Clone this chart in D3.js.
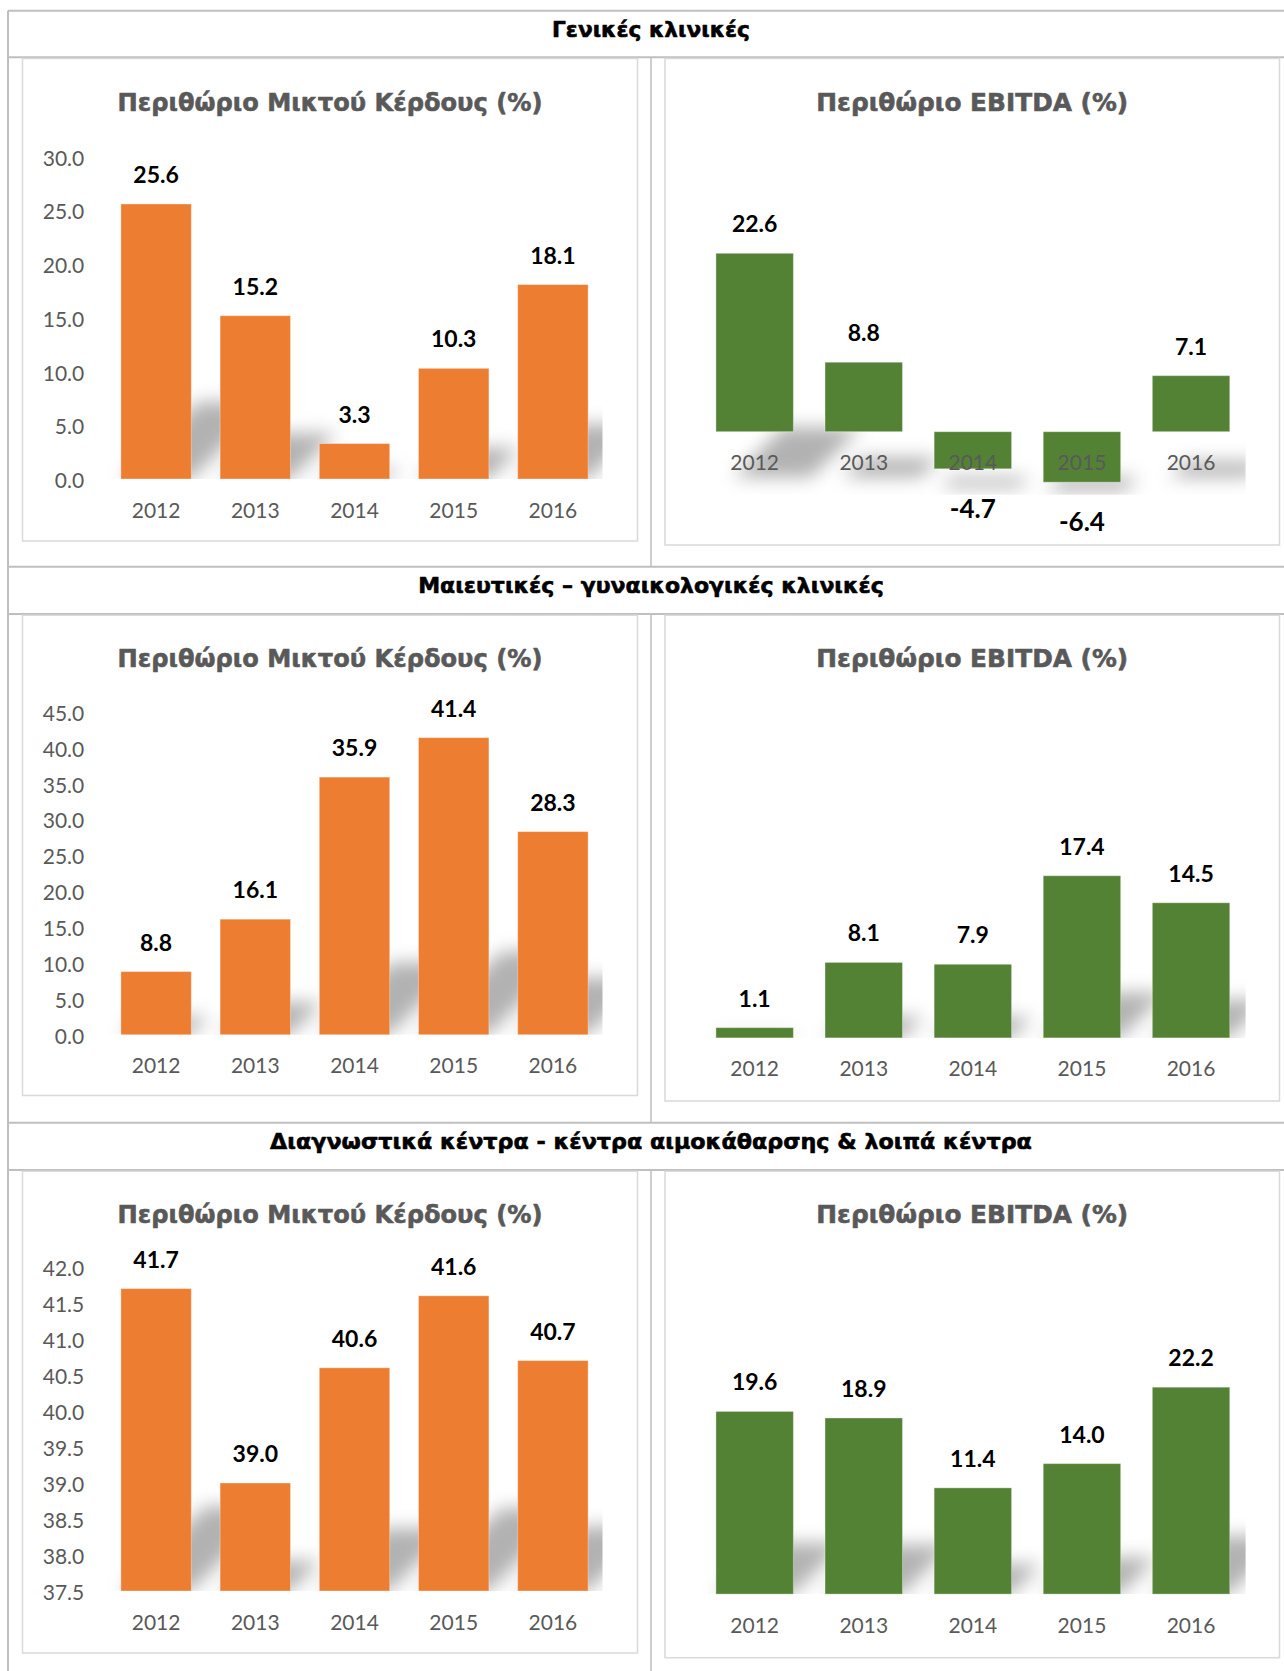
<!DOCTYPE html>
<html>
<head>
<meta charset="utf-8">
<script src="https://cdn.jsdelivr.net/npm/d3@7"></script>
<style>
  html, body { margin: 0; padding: 0; background: #ffffff; }
  svg { display: block; }
</style>
</head>
<body>
<svg id="page" width="1284" height="1671"></svg>
<script>
// ---- data ----
const years = ["2012", "2013", "2014", "2015", "2016"];

const sectionTitles = [
  "Γενικές κλινικές",
  "Μαιευτικές – γυναικολογικές κλινικές",
  "Διαγνωστικά κέντρα - κέντρα αιμοκάθαρσης & λοιπά κέντρα"
];
const grossTitle = "Περιθώριο Μικτού Κέρδους (%)";
const ebitdaTitle = "Περιθώριο EBITDA (%)";

const grossGeneral     = [25.6, 15.2, 3.3, 10.3, 18.1];
const ebitdaGeneral    = [22.6, 8.8, -4.7, -6.4, 7.1];
const grossMaternity   = [8.8, 16.1, 35.9, 41.4, 28.3];
const ebitdaMaternity  = [1.1, 8.1, 7.9, 17.4, 14.5];
const grossDiagnostic  = [41.7, 39.0, 40.6, 41.6, 40.7];
const ebitdaDiagnostic = [19.6, 18.9, 11.4, 14.0, 22.2];

// value-axis tick labels (gross margin charts show their axis)
const grossTicksGeneral    = [0, 5, 10, 15, 20, 25, 30];
const grossTicksMaternity  = [0, 5, 10, 15, 20, 25, 30, 35, 40, 45];
const grossTicksDiagnostic = [37.5, 38, 38.5, 39, 39.5, 40, 40.5, 41, 41.5, 42];

// axis bounds of the EBITDA charts (axis itself is hidden)
const ebitdaBoundsGeneral    = [-8, 24];
const ebitdaBoundsMaternity  = [0, 20];
const ebitdaBoundsDiagnostic = [0, 25];

// ---- styling / layout ----
const ORANGE = "#ED7D31";
const GREEN = "#548235";
const AXIS_TEXT = "#595959";
const TITLE_TEXT = "#595959";
const LINE = "#bfbfbf";
const PANEL = "#d9d9d9";
const W = 1284, H = 1671;
const OUTER_X = 8, MID_X = 651;
const HEAD_FONT = "'DejaVu Sans', Verdana, sans-serif";
const NUM_FONT = "Lato, 'Open Sans', sans-serif";

// one decimal, plain hyphen for negatives
const fmt = d3.formatLocale({ decimal: ".", thousands: ",", grouping: [3], currency: ["", ""], minus: "-" }).format(".1f");

const svg = d3.select("#page");

const defs = svg.append("defs");
defs.append("filter")
  .attr("id", "shadowBlur")
  .attr("filterUnits", "userSpaceOnUse")
  .attr("x", 0).attr("y", 0)
  .attr("width", W).attr("height", H)
  .append("feGaussianBlur").attr("stdDeviation", 9);

// bold heading text, squeezed horizontally to a given width
function fittedText(parent, str, cx, baseline, size, width, fill) {
  const g = parent.append("g").attr("transform", `translate(${cx},${baseline})`);
  const t = g.append("text")
    .attr("text-anchor", "middle")
    .attr("font-family", HEAD_FONT)
    .attr("font-weight", "bold")
    .attr("font-size", size)
    .attr("fill", fill)
    .attr("stroke", fill)
    .attr("stroke-width", 0.6)
    .attr("stroke-linejoin", "round")
    .text(str);
  const natural = t.node().getComputedTextLength();
  if (natural > 0) t.attr("transform", `scale(${width / natural},1)`);
  return g;
}

// rows: section header band, then two chart panels
const rows = [
  {
    title: sectionTitles[0], lineTop: 10.7, lineBottom: 57.3, nextLine: 566.7,
    leftBottom: 541, rightBottom: 545,
    left:  { values: grossGeneral, ticks: grossTicksGeneral, domain: [0, 30], range: [479, 156.7] },
    right: { values: ebitdaGeneral, domain: ebitdaBoundsGeneral, range: [494.85, 242.24] }
  },
  {
    title: sectionTitles[1], lineTop: 566.7, lineBottom: 614, nextLine: 1122.7,
    leftBottom: 1095.5, rightBottom: 1101,
    left:  { values: grossMaternity, ticks: grossTicksMaternity, domain: [0, 45], range: [1034.7, 711.8] },
    right: { values: ebitdaMaternity, domain: ebitdaBoundsMaternity, range: [1037.9, 851.5] }
  },
  {
    title: sectionTitles[2], lineTop: 1122.7, lineBottom: 1170, nextLine: H,
    leftBottom: 1653, rightBottom: 1657.7,
    left:  { values: grossDiagnostic, ticks: grossTicksDiagnostic, domain: [37.5, 42], range: [1591, 1267] },
    right: { values: ebitdaDiagnostic, domain: ebitdaBoundsDiagnostic, range: [1594.1, 1361.1] }
  }
];

const headerWidths = [198, 466, 762];

const leftPanel = { x0: 22.5, x1: 637.5, plotX: [106.5, 602.5], title: grossTitle, titleWidth: 425, color: ORANGE, showAxis: true };
const rightPanel = { x0: 665, x1: 1279.5, plotX: [700.1, 1245.6], title: ebitdaTitle, titleWidth: 312, color: GREEN, showAxis: false };

// outer frame line
svg.append("line")
  .attr("x1", OUTER_X).attr("x2", OUTER_X)
  .attr("y1", rows[0].lineTop).attr("y2", H)
  .attr("stroke", LINE).attr("stroke-width", 2);

rows.forEach((row, ri) => {
  // section header band
  [row.lineTop, row.lineBottom].forEach(yy => {
    svg.append("line")
      .attr("x1", OUTER_X).attr("x2", W)
      .attr("y1", yy).attr("y2", yy)
      .attr("stroke", LINE).attr("stroke-width", 2);
  });
  fittedText(svg, row.title, MID_X, row.lineTop + 26, 21.5, headerWidths[ri], "#000");

  // column divider
  svg.append("line")
    .attr("x1", MID_X).attr("x2", MID_X)
    .attr("y1", row.lineBottom).attr("y2", row.nextLine)
    .attr("stroke", LINE).attr("stroke-width", 1.5);

  drawChart(row, leftPanel, row.left, row.leftBottom, ri, "L");
  drawChart(row, rightPanel, row.right, row.rightBottom, ri, "R");
});

function drawChart(row, panel, spec, panelBottom, ri, side) {
  const g = svg.append("g");
  const top = row.lineBottom + 1.2;

  // panel frame
  g.append("rect")
    .attr("x", panel.x0).attr("y", top)
    .attr("width", panel.x1 - panel.x0).attr("height", panelBottom - top)
    .attr("fill", "#fff").attr("stroke", PANEL).attr("stroke-width", 1.5);

  // chart title
  fittedText(g, panel.title, (panel.x0 + panel.x1) / 2, row.lineBottom + 53.3, 25.5, panel.titleWidth, TITLE_TEXT);

  const x = d3.scaleBand().domain(years).range(panel.plotX)
    .paddingInner(0.29).paddingOuter(0.145);
  const y = d3.scaleLinear().domain(spec.domain).range(spec.range);

  const base = Math.min(Math.max(0, spec.domain[0]), spec.domain[1]);
  const yBase = y(base);
  const yFloor = y(spec.domain[0]);
  const data = years.map((yr, i) => ({ year: yr, value: spec.values[i] }));

  // clip region = plot area
  const clipId = "clip" + ri + side;
  defs.append("clipPath").attr("id", clipId)
    .append("rect")
    .attr("x", panel.plotX[0]).attr("y", y(spec.domain[1]))
    .attr("width", panel.plotX[1] - panel.plotX[0])
    .attr("height", yFloor - y(spec.domain[1]));

  // perspective shadows: bars flattened toward the plot floor and slanted to the right
  const SY = 0.28, SLANT = 1.0;
  const proj = v => yFloor - SY * (yFloor - y(v));
  g.append("g")
    .attr("clip-path", `url(#${clipId})`)
    .selectAll("path")
    .data(data)
    .join("path")
    .attr("d", d => {
      const x0 = x(d.year), x1 = x0 + x.bandwidth();
      const ya = proj(base), yb = proj(d.value);
      const sa = SLANT * (yFloor - ya), sb = SLANT * (yFloor - yb);
      return `M${x0 + sa},${ya}L${x1 + sa},${ya}L${x1 + sb},${yb}L${x0 + sb},${yb}Z`;
    })
    .attr("fill", "#000")
    .attr("fill-opacity", 0.3)
    .attr("filter", "url(#shadowBlur)");

  // bars
  g.append("g")
    .selectAll("rect")
    .data(data)
    .join("rect")
    .attr("x", d => x(d.year))
    .attr("width", x.bandwidth())
    .attr("y", d => Math.min(y(d.value), yBase))
    .attr("height", d => Math.abs(y(d.value) - yBase))
    .attr("fill", panel.color)
    .attr("stroke", "rgba(255,255,255,0.35)")
    .attr("stroke-width", 1);

  // value axis labels
  if (panel.showAxis) {
    const axis = d3.axisLeft(y).tickValues(spec.ticks).tickFormat(fmt).tickSize(0).tickPadding(0);
    const ax = g.append("g").attr("transform", `translate(84.2,0)`).call(axis);
    ax.select(".domain").remove();
    ax.selectAll("text")
      .attr("font-family", NUM_FONT)
      .attr("font-size", 21)
      .attr("fill", AXIS_TEXT)
      .attr("dy", null)
      .attr("dominant-baseline", "central");
  }

  // category labels
  const cat = d3.axisBottom(x).tickSize(0).tickPadding(0);
  const cx = g.append("g").attr("transform", `translate(0,${yBase + 30})`).call(cat);
  cx.select(".domain").remove();
  cx.selectAll("text")
    .attr("font-family", NUM_FONT)
    .attr("font-size", 21)
    .attr("fill", AXIS_TEXT)
    .attr("dy", null)
    .attr("y", 0)
    .attr("dominant-baseline", "central");

  // data labels
  g.append("g")
    .selectAll("text")
    .data(data)
    .join("text")
    .attr("x", d => x(d.year) + x.bandwidth() / 2)
    .attr("y", d => d.value >= 0 ? y(d.value) - 30 : y(d.value) + 39)
    .attr("text-anchor", "middle")
    .attr("dominant-baseline", "central")
    .attr("font-family", NUM_FONT)
    .attr("font-weight", "bold")
    .attr("font-size", d => d.value >= 0 ? 23 : 26)
    .attr("fill", "#000")
    .text(d => fmt(d.value));
}
</script>
</body>
</html>
